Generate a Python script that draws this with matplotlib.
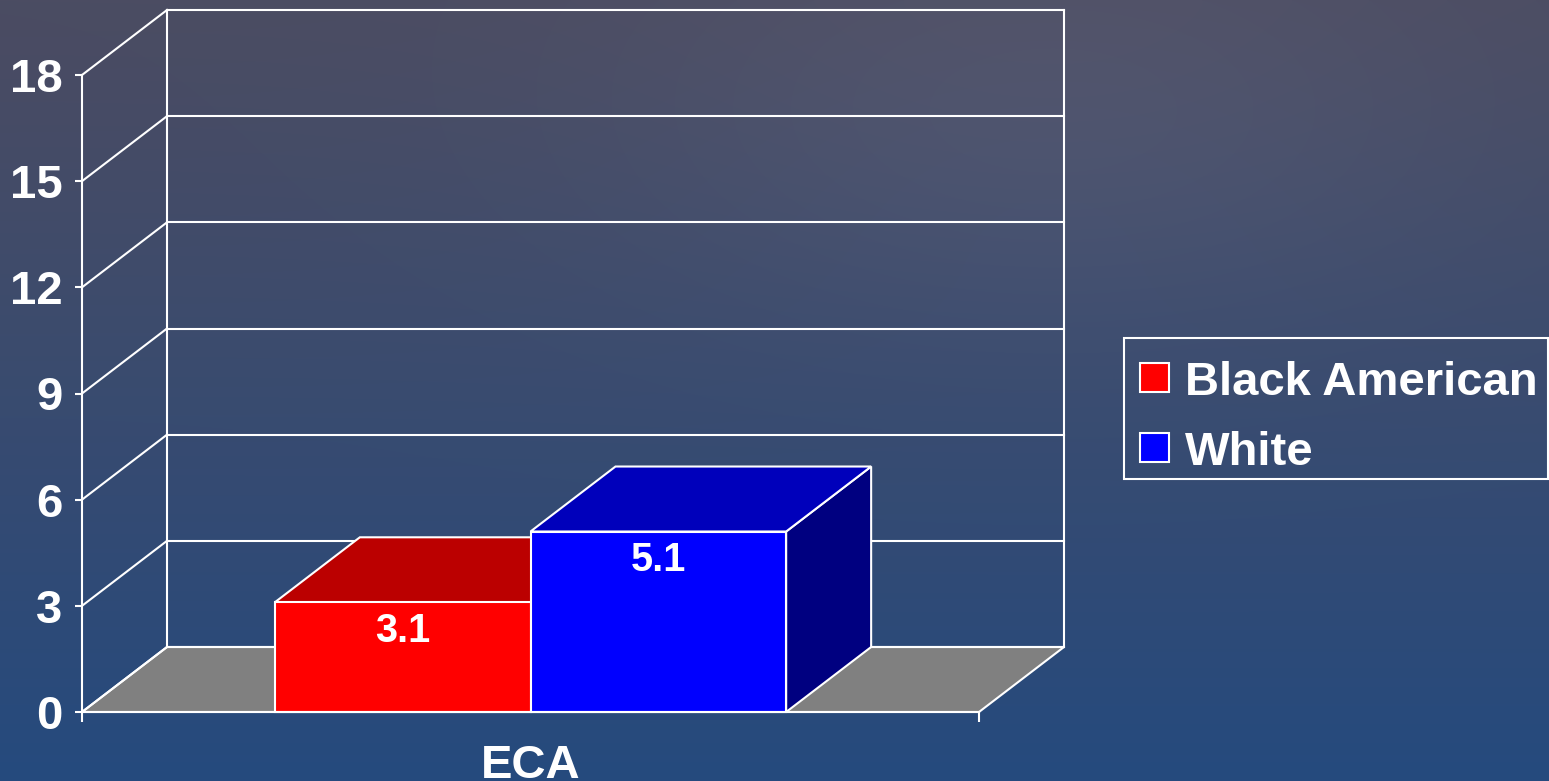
import numpy as np
import matplotlib.pyplot as plt
from matplotlib.patches import Rectangle

plt.rcParams['font.family'] = ['Liberation Sans', 'DejaVu Sans']
plt.rcParams['font.weight'] = 'bold'

category = "ECA"
groups = ["Black American", "White"]
values = [3.1, 5.1]
front_colors = ["#FF0000", "#0000FF"]
top_colors = ["#BB0000", "#0000BB"]
side_colors = ["#800000", "#000080"]
yticks = [0, 3, 6, 9, 12, 15, 18]

W, H = 1549, 781
fig = plt.figure(figsize=(W / 100, H / 100), dpi=100)

# slide-style background: slate at the top fading to blue at the bottom
bg = fig.add_axes([0, 0, 1, 1], zorder=-10)
bg.axis("off")
yy, xx = np.mgrid[0:1:H * 1j, 0:1:W * 1j]
c_top = np.array([0x4B, 0x4C, 0x62]) / 255
c_bot = np.array([0x25, 0x4A, 0x7E]) / 255
t = np.clip(yy ** 1.1, 0, 1)[..., None]
img = c_top * (1 - t) + c_bot * t
glow = 0.035 * np.exp(-((xx - 0.68) ** 2 / 0.08 + (yy - 0.15) ** 2 / 0.08))
img = np.clip(img + glow[..., None], 0, 1)
bg.imshow(img, aspect="auto", extent=(0, 1, 0, 1), origin="upper")
bg.set_xlim(0, 1)
bg.set_ylim(0, 1)

# front plane of the pseudo-3D box
ax = fig.add_axes([82 / W, (H - 712) / H, 897 / W, 637 / H])
ax.set_xlim(0, 1)
ax.set_ylim(0, 18)
ax.patch.set_alpha(0)
DX = 85 / 897
DY = 65 / (637 / 18)
lw = 1.5
line_kw = dict(color="white", lw=lw, clip_on=False, solid_capstyle="projecting")

# floor
ax.fill([0, 1, 1 + DX, DX], [0, 0, DY, DY], facecolor="#808080",
        edgecolor="white", lw=lw, clip_on=False, zorder=1)

# back wall gridlines and the depth diagonals
ax.plot([DX, DX], [DY, yticks[-1] + DY], zorder=1, **line_kw)
ax.plot([1 + DX, 1 + DX], [DY, yticks[-1] + DY], zorder=1, **line_kw)
for tk in yticks:
    ax.plot([DX, 1 + DX], [tk + DY, tk + DY], zorder=1, **line_kw)
    ax.plot([0, DX], [tk, tk + DY], zorder=1, **line_kw)

# bars, each one running the full depth
bar_w = 0.285
for i, (v, fc, tc, sc) in enumerate(zip(values, front_colors, top_colors, side_colors)):
    x0 = 0.5 - bar_w + i * bar_w
    x1 = x0 + bar_w
    z = 2 + i
    ax.fill([x1, x1 + DX, x1 + DX, x1], [0, DY, v + DY, v], facecolor=sc,
            edgecolor="white", lw=lw, clip_on=False, zorder=z)
    ax.fill([x0, x1, x1 + DX, x0 + DX], [v, v, v + DY, v + DY], facecolor=tc,
            edgecolor="white", lw=lw, clip_on=False, zorder=z)
    ax.fill([x0, x1, x1, x0], [0, 0, v, v], facecolor=fc,
            edgecolor="white", lw=lw, clip_on=False, zorder=z)
    ax.annotate(f"{v:g}", xy=(x0 + bar_w / 2, v), xytext=(0, -7),
                textcoords="offset points", ha="center", va="top",
                color="white", fontsize=28.5, fontweight="bold", zorder=10)

for side in ["top", "right"]:
    ax.spines[side].set_visible(False)
for side in ["left", "bottom"]:
    ax.spines[side].set_color("white")
    ax.spines[side].set_linewidth(lw)
    ax.spines[side].set_zorder(5)

ax.set_yticks(yticks)
ax.set_yticklabels([str(t) for t in yticks])
ax.tick_params(axis="y", colors="white", length=5, width=lw, pad=9,
               labelsize=34)
ax.set_xticks([0.5])
ax.set_xticklabels([category])
ax.set_xticks([0, 1], minor=True)
ax.tick_params(axis="x", which="major", length=0, pad=23, colors="white",
               labelsize=34)
ax.tick_params(axis="x", which="minor", length=7.5, width=lw, colors="white")

# legend box drawn by hand so the labels sit on their baselines
def px(x, y):
    return x / W, 1 - y / H

fig.add_artist(Rectangle(px(1124, 479), 424 / W, 141 / H, fill=False,
                         edgecolor="white", lw=lw, transform=fig.transFigure))
for i, (name, c) in enumerate(zip(groups, front_colors)):
    row = 70 * i
    fig.add_artist(Rectangle(px(1140, 392 + row), 29 / W, 29 / H,
                             facecolor=c, edgecolor="white", lw=lw,
                             transform=fig.transFigure))
    fig.text(*px(1185, 395 + row), name, color="white", fontsize=34,
             fontweight="bold", ha="left", va="baseline")

fig.savefig("out.png", dpi=100)
